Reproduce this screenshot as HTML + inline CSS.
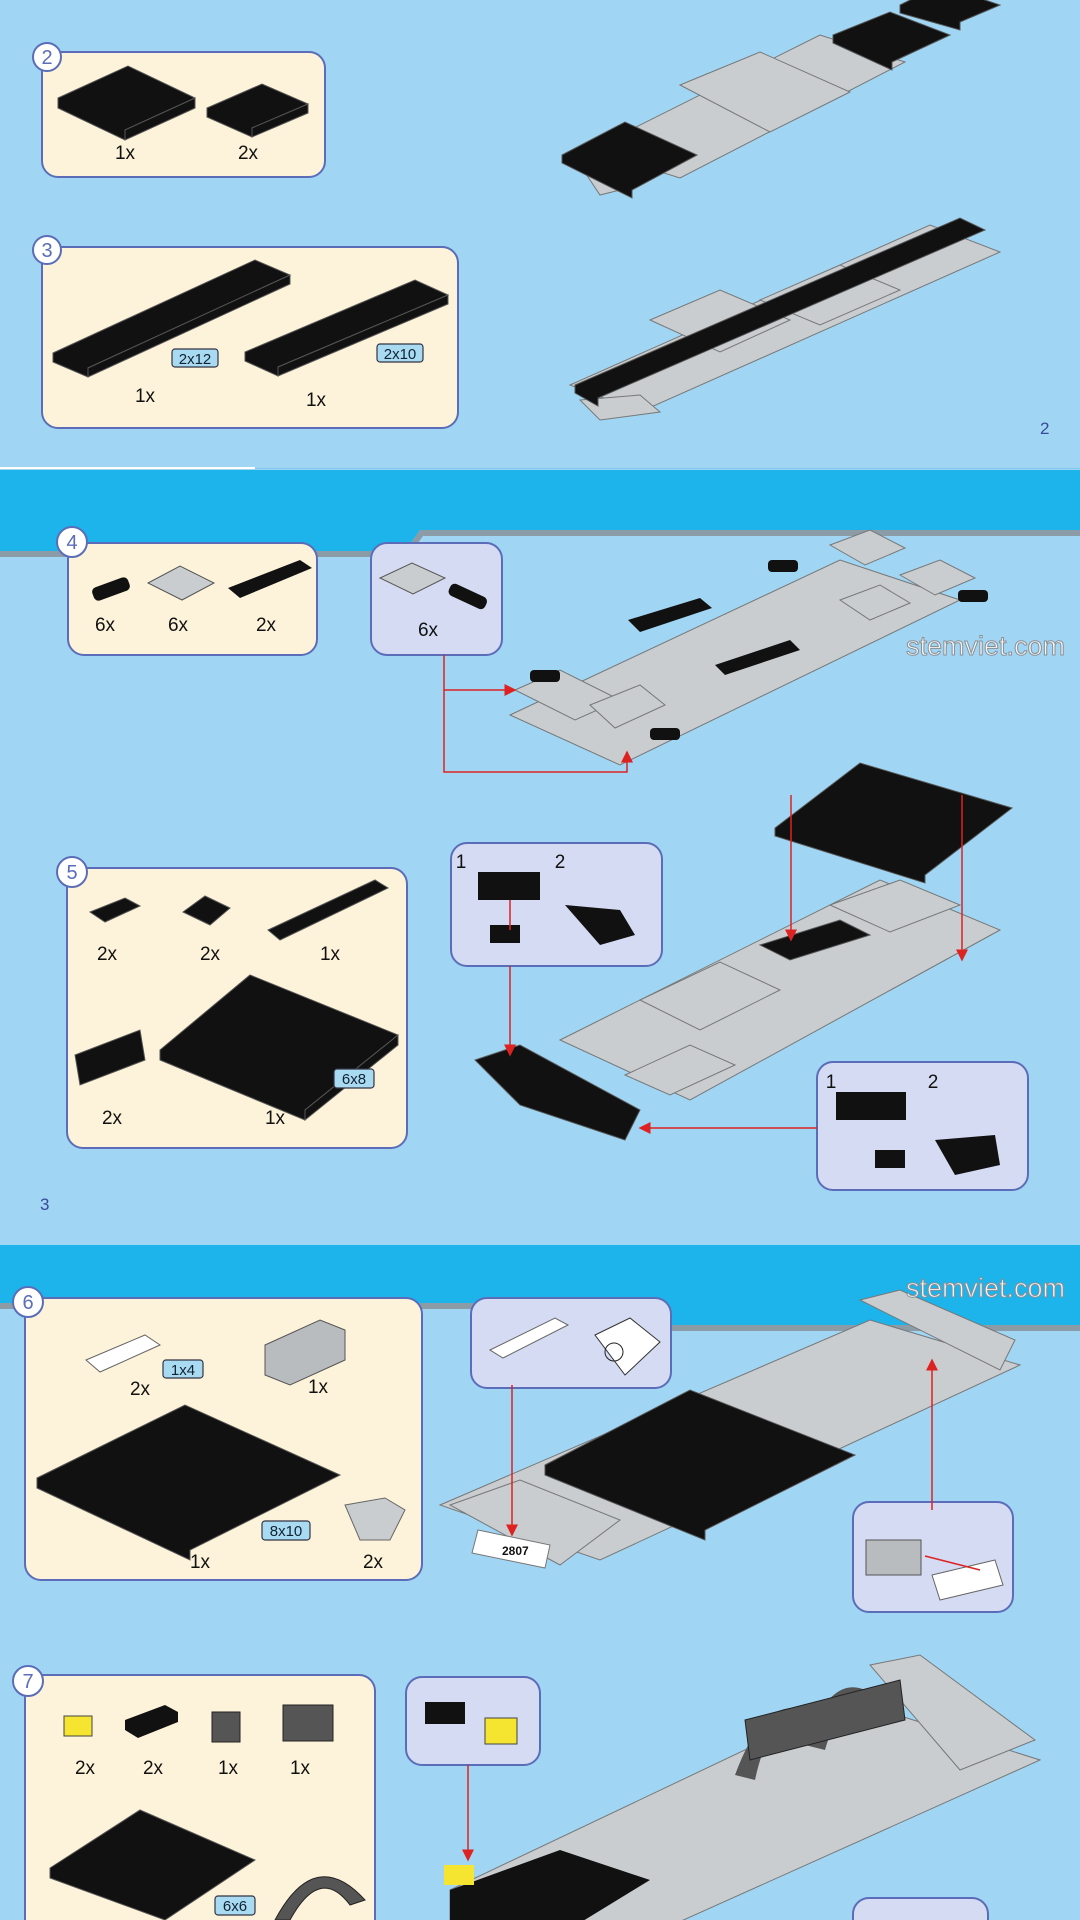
<!DOCTYPE html>
<html><head><meta charset="utf-8"><style>
body{margin:0;width:1080px;height:1920px;overflow:hidden;background:#a0d6f4;font-family:"Liberation Sans",sans-serif}
svg{position:absolute;left:0;top:0}
text{font-family:"Liberation Sans",sans-serif}
</style></head><body>
<svg width="1080" height="1920" viewBox="0 0 1080 1920">
<defs>
<marker id="ar" markerWidth="8" markerHeight="8" refX="7" refY="4" orient="auto"><path d="M0,0 L8,4 L0,8z" fill="#d22"/></marker>
</defs>
<rect width="1080" height="1920" fill="#a0d6f4"/>
<rect x="0" y="467" width="255" height="2" fill="#fff"/>
<rect x="255" y="468" width="825" height="1" fill="#7fc6ee"/>
<polygon points="0,470 1080,470 1080,530 420,530 405,551 0,551" fill="#1cb4ea"/>
<polygon points="0,551 405,551 420,530 1080,530 1080,536 423,536 408,557 0,557" fill="#8c9ca6"/>
<polygon points="0,1245 1080,1245 1080,1325 660,1325 645,1303 0,1303" fill="#1cb4ea"/>
<polygon points="0,1303 645,1303 660,1325 1080,1325 1080,1331 657,1331 642,1309 0,1309" fill="#8c9ca6"/>

<g stroke="#5b6db8" stroke-width="2">
<rect x="42" y="52" width="283" height="125" rx="16" fill="#fdf3da"/>
<rect x="42" y="247" width="416" height="181" rx="16" fill="#fdf3da"/>
<rect x="68" y="543" width="249" height="112" rx="16" fill="#fdf3da"/>
<rect x="371" y="543" width="131" height="112" rx="16" fill="#d5dbf2"/>
<rect x="67" y="868" width="340" height="280" rx="16" fill="#fdf3da"/>
<rect x="451" y="843" width="211" height="123" rx="16" fill="#d5dbf2"/>
<rect x="817" y="1062" width="211" height="128" rx="16" fill="#d5dbf2"/>
<rect x="25" y="1298" width="397" height="282" rx="16" fill="#fdf3da"/>
<rect x="471" y="1298" width="200" height="90" rx="16" fill="#d5dbf2"/>
<rect x="853" y="1502" width="160" height="110" rx="16" fill="#d5dbf2"/>
<rect x="25" y="1675" width="350" height="260" rx="16" fill="#fdf3da"/>
<rect x="406" y="1677" width="134" height="88" rx="16" fill="#d5dbf2"/>
<rect x="853" y="1898" width="135" height="60" rx="16" fill="#d5dbf2"/>
<circle cx="47" cy="57" r="14" fill="#fff"/>
<circle cx="47" cy="250" r="14" fill="#fff"/>
<circle cx="72" cy="542" r="15" fill="#fff"/>
<circle cx="72" cy="872" r="15" fill="#fff"/>
<circle cx="28" cy="1302" r="15" fill="#fff"/>
<circle cx="28" cy="1681" r="15" fill="#fff"/>
</g>
<g fill="#5b6db8" font-size="20" text-anchor="middle">
<text x="47" y="64">2</text><text x="47" y="257">3</text><text x="72" y="549">4</text>
<text x="72" y="879">5</text><text x="28" y="1309">6</text><text x="28" y="1688">7</text>
</g>

<g fill="#111" stroke="#555" stroke-width="1">
<polygon points="58,98 128,66 195,98 125,130 125,140 58,108"/><polygon points="125,130 195,98 195,108 125,140"/>
<polygon points="207,108 262,84 308,104 252,128 252,137 207,117"/><polygon points="252,128 308,104 308,113 252,137"/>
<polygon points="53,353 255,260 290,275 88,368 88,377 53,362"/><polygon points="88,368 290,275 290,284 88,377"/>
<polygon points="245,352 415,280 448,295 278,367 278,376 245,361"/><polygon points="278,367 448,295 448,304 278,376"/>
</g>
<g fill="#c9cdd0" stroke="#777" stroke-width="1">
<polygon points="590,150 820,35 905,62 680,178"/>
<polygon points="680,85 760,52 850,92 770,132"/>
<polygon points="580,165 600,160 640,185 600,195"/>
<polygon points="570,385 930,225 1000,252 640,412"/>
<polygon points="650,320 720,290 790,320 720,352"/>
<polygon points="760,300 840,265 900,290 820,325"/>
<polygon points="580,400 640,395 660,412 600,420"/>
</g>
<g fill="#111" stroke="#555">
<polygon points="562,155 625,122 697,155 632,190 632,198 562,163"/>
<polygon points="833,35 890,12 950,35 892,62 892,70 833,43"/>
<polygon points="900,5 940,-15 1000,5 960,22 960,30 900,13"/>
<polygon points="575,385 960,218 985,230 598,398 598,406 575,393"/>
</g>
<g font-size="19" fill="#111" text-anchor="middle">
<text x="125" y="159">1x</text><text x="248" y="159">2x</text>
<text x="145" y="402">1x</text><text x="316" y="406">1x</text>
</g>
<text x="1040" y="434" font-size="17" fill="#3a4a9a">2</text>
<text x="40" y="1210" font-size="17" fill="#3a4a9a">3</text>

<!-- step4 -->
<g fill="#111"><rect x="92" y="582" width="38" height="14" rx="5" transform="rotate(-20 111 589)"/>
<polygon points="228,588 300,560 312,568 240,598"/></g>
<polygon points="148,583 180,566 214,583 182,600" fill="#c9cdd0" stroke="#555"/>
<polygon points="380,578 412,563 445,578 413,594" fill="#c9cdd0" stroke="#555"/>
<rect x="448" y="590" width="40" height="13" rx="5" fill="#111" transform="rotate(25 468 596)"/>
<g font-size="19" fill="#111" text-anchor="middle">
<text x="105" y="631">6x</text><text x="178" y="631">6x</text><text x="266" y="631">2x</text><text x="428" y="636">6x</text>
</g>
<g fill="#c9cdd0" stroke="#777">
<polygon points="510,715 840,560 960,600 620,765"/>
<polygon points="515,690 560,670 620,700 575,720"/>
<polygon points="590,705 640,685 665,705 615,728"/>
<polygon points="830,545 870,530 905,548 865,565"/>
<polygon points="900,575 940,560 975,578 935,595"/>
<polygon points="840,600 880,585 910,603 870,620"/>
</g>
<g fill="#111"><polygon points="628,620 700,598 712,608 640,632"/><polygon points="715,665 790,640 800,650 725,675"/>
<rect x="530" y="670" width="30" height="12" rx="4"/><rect x="768" y="560" width="30" height="12" rx="4"/><rect x="958" y="590" width="30" height="12" rx="4"/><rect x="650" y="728" width="30" height="12" rx="4"/></g>
<g stroke="#d22" stroke-width="1.5" fill="none">
<polyline points="444,655 444,690 515,690" marker-end="url(#ar)"/>
<polyline points="444,690 444,772 627,772 627,752" marker-end="url(#ar)"/>
</g>
<text x="1065" y="655" font-size="27" text-anchor="end" fill="#f4f6f8" stroke="#8a8f95" stroke-width="1">stemviet.com</text>

<!-- step5 parts -->
<g fill="#111" stroke="#555">
<polygon points="90,912 125,898 140,906 105,922"/>
<polygon points="183,912 205,896 230,908 210,925"/>
<polygon points="268,930 375,880 388,888 280,940"/>
<polygon points="75,1055 140,1030 145,1060 80,1085"/>
<polygon points="160,1050 250,975 398,1035 305,1110 305,1120 160,1060"/><polygon points="305,1110 398,1035 398,1045 305,1120"/>
</g>
<g font-size="19" fill="#111" text-anchor="middle">
<text x="107" y="960">2x</text><text x="210" y="960">2x</text><text x="330" y="960">1x</text>
<text x="112" y="1124">2x</text><text x="275" y="1124">1x</text>
<text x="461" y="868">1</text><text x="560" y="868">2</text><text x="831" y="1088">1</text><text x="933" y="1088">2</text>
</g>
<g fill="#111"><rect x="478" y="872" width="62" height="28"/><polygon points="565,905 620,910 635,935 600,945"/>
<rect x="836" y="1092" width="70" height="28"/><polygon points="935,1140 995,1135 1000,1165 955,1175"/>
<rect x="490" y="925" width="30" height="18"/><rect x="875" y="1150" width="30" height="18"/></g>
<g fill="#c9cdd0" stroke="#777">
<polygon points="560,1040 880,880 1000,930 690,1100"/>
<polygon points="640,1000 720,962 780,990 700,1030"/>
<polygon points="830,905 900,880 960,905 890,932"/>
<polygon points="625,1075 690,1045 735,1065 670,1095"/>
</g>
<g fill="#111" stroke="#555">
<polygon points="475,1060 520,1045 640,1110 625,1140 520,1105"/>
<polygon points="760,945 840,920 870,935 790,960"/>
<polygon points="775,828 860,763 1012,808 925,875 925,883 775,836"/>
</g>
<g stroke="#d22" stroke-width="1.5" fill="none">
<line x1="791" y1="795" x2="791" y2="940" marker-end="url(#ar)"/>
<line x1="962" y1="795" x2="962" y2="960" marker-end="url(#ar)"/>
<line x1="510" y1="966" x2="510" y2="1055" marker-end="url(#ar)"/>
<line x1="817" y1="1128" x2="640" y2="1128" marker-end="url(#ar)"/>
<line x1="510" y1="900" x2="510" y2="930"/>
</g>

<!-- step6 -->
<polygon points="86,1360 145,1335 160,1345 100,1372" fill="#fff" stroke="#666"/>
<polygon points="265,1345 320,1320 345,1330 345,1360 290,1385 265,1375" fill="#b8bcbf" stroke="#555"/>
<polygon points="37,1478 185,1405 340,1475 190,1550 190,1560 37,1488" fill="#111" stroke="#555"/>
<polygon points="345,1505 385,1498 405,1510 390,1540 360,1540" fill="#c9cdd0" stroke="#666"/>
<g font-size="19" fill="#111" text-anchor="middle">
<text x="140" y="1395">2x</text><text x="318" y="1393">1x</text><text x="200" y="1568">1x</text><text x="373" y="1568">2x</text>
</g>
<polygon points="490,1350 555,1318 568,1325 503,1358" fill="#fff" stroke="#666"/>
<polygon points="595,1335 630,1318 660,1342 625,1375" fill="#fff" stroke="#333"/>
<circle cx="614" cy="1352" r="9" fill="none" stroke="#222"/>
<g fill="#c9cdd0" stroke="#777">
<polygon points="440,1505 870,1320 1020,1365 600,1560"/>
<polygon points="860,1300 900,1290 1015,1340 1000,1370"/>
<polygon points="450,1505 520,1480 620,1520 560,1565"/>
</g>
<polygon points="478,1530 550,1545 545,1568 472,1553" fill="#fff" stroke="#777"/>
<text x="502" y="1555" font-size="12" font-weight="bold" fill="#111">2807</text>
<polygon points="545,1465 690,1390 855,1455 705,1530 705,1540 545,1475" fill="#111" stroke="#555"/>
<rect x="866" y="1540" width="55" height="35" fill="#b8bcbf" stroke="#555"/>
<polygon points="932,1575 995,1560 1003,1585 940,1600" fill="#fff" stroke="#666"/>
<g stroke="#d22" stroke-width="1.5" fill="none">
<line x1="512" y1="1385" x2="512" y2="1535" marker-end="url(#ar)"/>
<line x1="932" y1="1510" x2="932" y2="1360" marker-end="url(#ar)"/>
<line x1="980" y1="1570" x2="925" y2="1556"/>
</g>
<text x="1065" y="1297" font-size="27" text-anchor="end" fill="#f4f6f8" stroke="#8a8f95" stroke-width="1">stemviet.com</text>

<!-- step7 -->
<rect x="64" y="1716" width="28" height="20" fill="#f5e430" stroke="#444"/>
<polygon points="125,1720 165,1705 178,1712 178,1722 138,1738 125,1730" fill="#111"/>
<rect x="212" y="1712" width="28" height="30" fill="#555" stroke="#222"/>
<rect x="283" y="1705" width="50" height="36" fill="#555" stroke="#222"/>
<g font-size="19" fill="#111" text-anchor="middle">
<text x="85" y="1774">2x</text><text x="153" y="1774">2x</text><text x="228" y="1774">1x</text><text x="300" y="1774">1x</text>
</g>
<polygon points="50,1868 140,1810 255,1860 165,1920 50,1878" fill="#111" stroke="#555"/>
<path d="M275,1920 Q315,1845 365,1900 L350,1905 Q320,1865 290,1920z" fill="#555" stroke="#222"/>
<rect x="425" y="1702" width="40" height="22" fill="#111"/><rect x="485" y="1718" width="32" height="26" fill="#f5e430" stroke="#444"/>
<g fill="#c9cdd0" stroke="#777">
<polygon points="450,1890 850,1700 1040,1760 650,1935 450,1935"/>
<polygon points="870,1665 920,1655 1035,1740 960,1770"/>
</g>
<path d="M735,1775 Q770,1680 820,1720 L800,1735 Q770,1710 755,1780z" fill="#555"/>
<path d="M805,1745 Q835,1660 880,1700 L870,1720 Q840,1695 825,1750z" fill="#555"/>
<polygon points="745,1720 900,1680 905,1720 750,1760" fill="#555" stroke="#222"/>
<polygon points="450,1890 560,1850 650,1880 560,1935 450,1935" fill="#111"/>
<rect x="444" y="1865" width="30" height="20" fill="#f5e430"/>
<line x1="468" y1="1765" x2="468" y2="1860" stroke="#d22" stroke-width="1.5" marker-end="url(#ar)"/>

<!-- size labels on top -->
<g stroke="#334" stroke-width="1.2" fill="#a8daf2">
<rect x="172" y="349" width="46" height="18" rx="3"/><rect x="377" y="344" width="46" height="18" rx="3"/>
<rect x="334" y="1069" width="40" height="19" rx="3"/><rect x="163" y="1360" width="40" height="18" rx="3"/>
<rect x="262" y="1521" width="48" height="19" rx="3"/><rect x="215" y="1896" width="40" height="19" rx="3"/>
</g>
<g font-size="15" fill="#123" text-anchor="middle">
<text x="195" y="364">2x12</text><text x="400" y="359">2x10</text><text x="354" y="1084">6x8</text>
<text x="183" y="1375">1x4</text><text x="286" y="1536">8x10</text><text x="235" y="1911">6x6</text>
</g>
</svg>
</body></html>
